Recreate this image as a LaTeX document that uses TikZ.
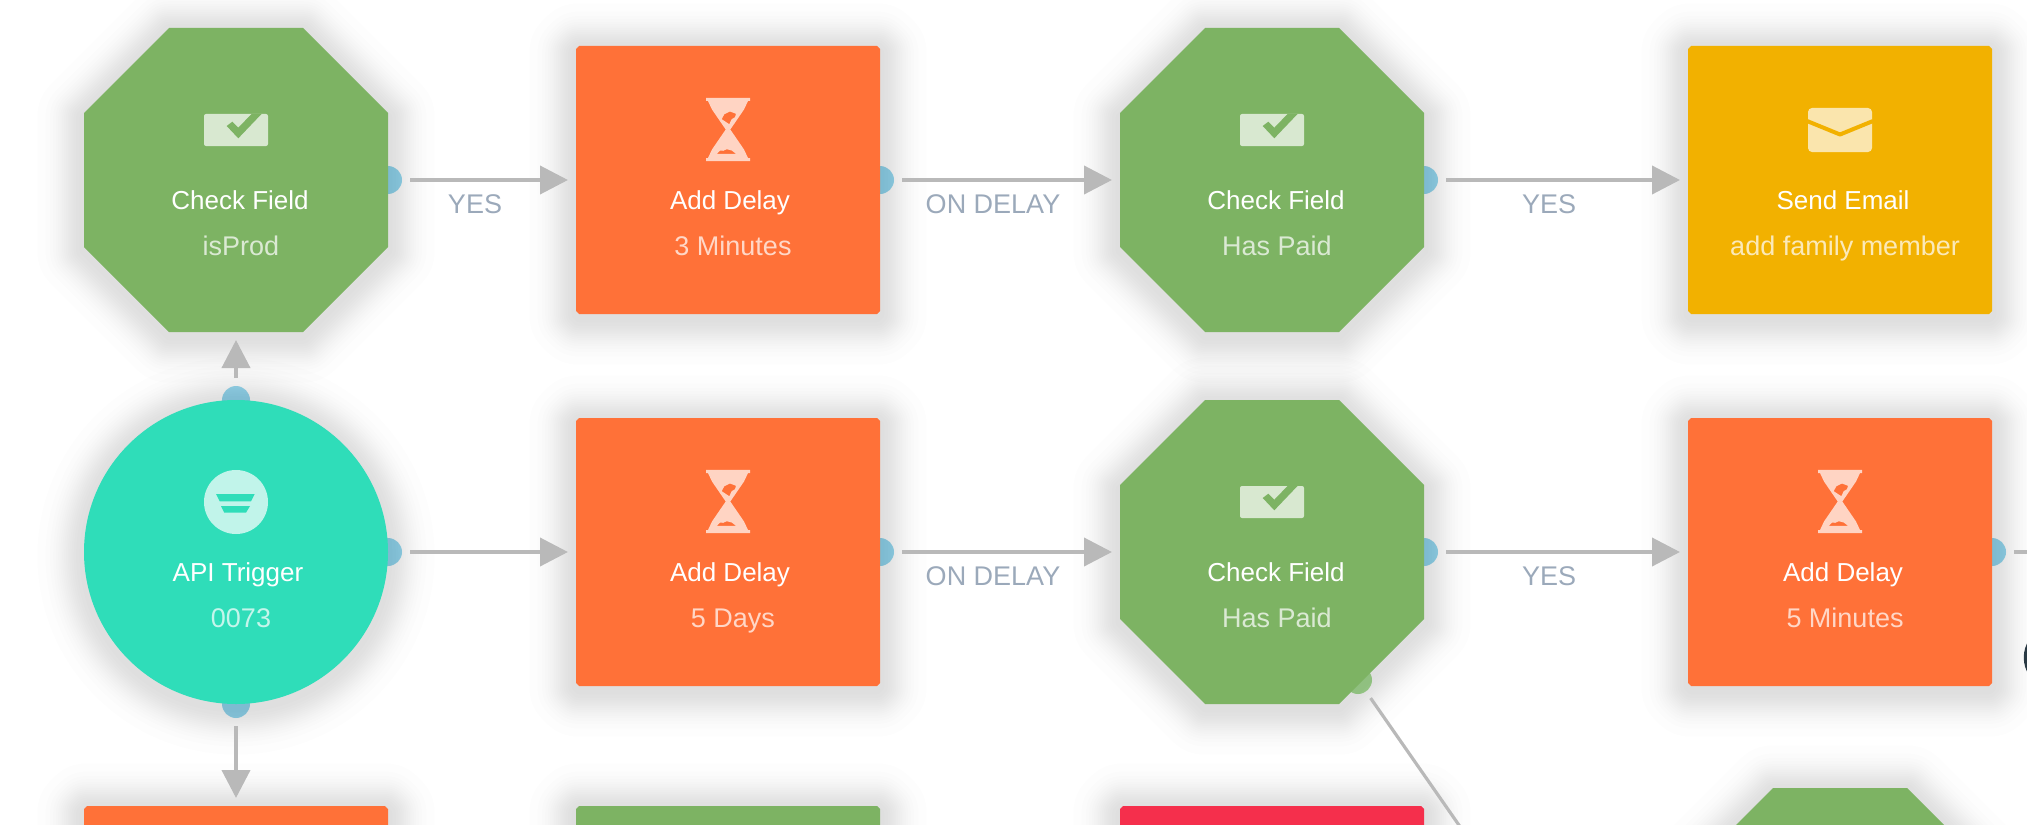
\documentclass[tikz,border=0pt]{standalone}
\usepackage{fontspec}
\setmainfont{Liberation Sans}
\usetikzlibrary{arrows.meta}

\definecolor{chkgreen}{HTML}{7DB363}
\definecolor{dlyorange}{HTML}{FF7138}
\definecolor{mailyellow}{HTML}{F2B100}
\definecolor{apiteal}{HTML}{2FDDB9}
\definecolor{alertred}{HTML}{F52F4C}
\definecolor{portblue}{HTML}{9EDBF1}
\definecolor{portgreen}{HTML}{B0E0A0}
\definecolor{flowgrey}{HTML}{B9B9B9}
\definecolor{flowtext}{HTML}{9BA9BA}
\definecolor{edgedark}{HTML}{2A3A45}

% rectangle with cut corners
\makeatletter
\pgfkeys{/pgf/cut len/.initial=1.5pt}
\pgfdeclareshape{cutbox}{
  \inheritsavedanchors[from=rectangle]
  \inheritanchorborder[from=rectangle]
  \inheritanchor[from=rectangle]{center}
  \inheritanchor[from=rectangle]{north}
  \inheritanchor[from=rectangle]{south}
  \inheritanchor[from=rectangle]{east}
  \inheritanchor[from=rectangle]{west}
  \backgroundpath{
    \pgfmathsetlength\pgf@yc{\pgfkeysvalueof{/pgf/cut len}}
    \southwest \pgf@xa=\pgf@x \pgf@ya=\pgf@y
    \northeast \pgf@xb=\pgf@x \pgf@yb=\pgf@y
    \pgfpathmoveto{\pgfqpoint{\pgf@xa}{\dimexpr\pgf@ya+\pgf@yc}}
    \pgfpathlineto{\pgfqpoint{\pgf@xa}{\dimexpr\pgf@yb-\pgf@yc}}
    \pgfpathlineto{\pgfqpoint{\dimexpr\pgf@xa+\pgf@yc}{\pgf@yb}}
    \pgfpathlineto{\pgfqpoint{\dimexpr\pgf@xb-\pgf@yc}{\pgf@yb}}
    \pgfpathlineto{\pgfqpoint{\pgf@xb}{\dimexpr\pgf@yb-\pgf@yc}}
    \pgfpathlineto{\pgfqpoint{\pgf@xb}{\dimexpr\pgf@ya+\pgf@yc}}
    \pgfpathlineto{\pgfqpoint{\dimexpr\pgf@xb-\pgf@yc}{\pgf@ya}}
    \pgfpathlineto{\pgfqpoint{\dimexpr\pgf@xa+\pgf@yc}{\pgf@ya}}
    \pgfpathclose
  }
}
\makeatother

\tikzset{
  softstep/.style={preaction={draw=black,draw opacity=.0065,line width=#1pt,
      line join=round,transform canvas={yshift=-2pt}}},
  softshadow/.style={softstep/.list={46.6,38.5,34,30.8,28.2,25.8,23.7,21.8,19.9,18,16.2,14.4,12.4,10.3,7.9,4.4}},
  octa/.style={cutbox,/pgf/cut len=42.5pt,minimum width=152pt,minimum height=152pt,
      inner sep=0pt,outer sep=0pt,softshadow,fill=chkgreen},
  card/.style={cutbox,/pgf/cut len=1.5pt,minimum width=152pt,minimum height=134pt,
      inner sep=0pt,outer sep=0pt,softshadow,fill=#1},
  port/.style={circle,minimum size=14pt,inner sep=0pt,outer sep=0pt,fill=portblue},
  flow/.style={draw=flowgrey,line width=2pt,shorten <=4pt,shorten >=4pt,
      -{Triangle[length=14pt,width=14pt]}},
  headtext/.style={anchor=base,white,font=\fontsize{13}{15}\selectfont},
  subtext/.style={anchor=base,white,opacity=.72,font=\fontsize{13.5}{15}\selectfont},
  flowlabel/.style={anchor=base,flowtext,font=\fontsize{13.5}{15}\selectfont},
  checkicon/.pic={
    \fill[white,opacity=.7,rounded corners=1pt] (-32,-16) rectangle (32,16);
    \fill[chkgreen] (-9.3,-4) -- (-3.7,-8.3) -- (2.3,-2.3) -- (15.7,-16.2)
      -- (25.7,-16.2) -- (2.3,8.3) -- cycle;
  },
  delayicon/.pic={
    \fill[white,opacity=.7,even odd rule]
      (-22,-31.7) -- (22,-31.7) -- (22,-28.5) -- (20,-28.5) -- (16,-20)
      -- (2.3,0) -- (16,20) -- (20,28.5) -- (22,28.5)
      -- (22,31.7) -- (-22,31.7) -- (-22,28.5) -- (-20,28.5) -- (-16,20)
      -- (-2.3,0) -- (-16,-20) -- (-20,-28.5)
      -- (-22,-28.5) -- cycle
      (-6.3,-10.3) -- (-3.7,-15.3) -- (2,-18) -- (8,-15.7) -- (7,-12.3)
      -- (3.7,-10.3) -- (1.3,-5.3) -- cycle
      (-11.3,24.3) -- (-8,21) -- (-4.7,21.3) -- (-1.3,19.7) -- (3.7,21)
      -- (8,24.3) -- cycle;
  },
  mailicon/.pic={
    \fill[white,opacity=.68,rounded corners=2pt] (-32,-22) rectangle (32,22);
    \draw[mailyellow,line width=2pt,line join=round] (-33,-9) -- (0,4.5) -- (33,-9);
  },
  apiicon/.pic={
    \fill[white,opacity=.7] (0,0) circle (16pt);
    \fill[apiteal] (-20,-8) -- (18.7,-8) -- (15,-.7) -- (-16.3,-.7) -- cycle;
    \fill[apiteal] (-15,4) -- (14,4) -- (10,10.7) -- (-11.7,10.7) -- cycle;
  }
}

\begin{document}
\begin{tikzpicture}[x=.5pt,y=-.5pt]

      \useasboundingbox (0,0) rectangle (2027,824);
      \clip (0,0) rectangle (2027,824);

      % dots stay under the shapes
      \begin{scope}
        \node[port] (p1) at (388,180)  {};
        \node[port] (p2) at (880,180)  {};
        \node[port] (p3) at (1424,180) {};
        \node[port] (p4) at (236,400)  {};
        \node[port] (p5) at (388,552)  {};
        \node[port] (p6) at (236,704)  {};
        \node[port] (p7) at (880,552)  {};
        \node[port] (p8) at (1424,552) {};
        \node[port] (p9) at (1992,552) {};
        \node[port,fill=portgreen] (p10) at (1358,680) {};
      \end{scope}

      \begin{scope}
        \node[octa] (chk1) at (236,180)   {};
        \node[card=dlyorange] (dly1) at (728,180)  {};
        \node[octa] (chk2) at (1272,180)  {};
        \node[card=mailyellow] (mail1) at (1840,180) {};
        \node[circle,minimum size=152pt,inner sep=0pt,outer sep=0pt,softshadow,fill=apiteal] (api1) at (236,552) {};
        \node[card=dlyorange] (dly2) at (728,552)  {};
        \node[octa] (chk3) at (1272,552)  {};
        \node[card=dlyorange] (dly3) at (1840,552) {};
        \node[card=dlyorange] (dly4) at (236,940)  {};
        \node[card=chkgreen] (chk4) at (728,940)   {};
        \node[card=alertred] (alert1) at (1272,940) {};
        \node[octa] (chk5) at (1840,940)  {};
      \end{scope}

      % icons
      \pic at (236,130)  {checkicon};
      \pic at (728,129.5) {delayicon};
      \pic at (1272,130) {checkicon};
      \pic at (1840,130) {mailicon};
      \pic at (236,502)  {apiicon};
      \pic at (728,501.5) {delayicon};
      \pic at (1272,502) {checkicon};
      \pic at (1840,501.5) {delayicon};

      \node[headtext] (chk1a)  at (240,209)  {Check Field};
      \node[subtext]  (chk1b)  at (241,255)  {isProd};
      \node[headtext] (dly1a)  at (730,209)  {Add Delay};
      \node[subtext]  (dly1b)  at (733,255)  {3 Minutes};
      \node[headtext] (chk2a)  at (1276,209) {Check Field};
      \node[subtext]  (chk2b)  at (1277,255) {Has Paid};
      \node[headtext] (mail1a) at (1843,209) {Send Email};
      \node[subtext]  (mail1b) at (1845,255) {add family member};
      \node[headtext] (api1a)  at (238,581)  {API Trigger};
      \node[subtext]  (api1b)  at (241,627)  {0073};
      \node[headtext] (dly2a)  at (730,581)  {Add Delay};
      \node[subtext]  (dly2b)  at (733,627)  {5 Days};
      \node[headtext] (chk3a)  at (1276,581) {Check Field};
      \node[subtext]  (chk3b)  at (1277,627) {Has Paid};
      \node[headtext] (dly3a)  at (1843,581) {Add Delay};
      \node[subtext]  (dly3b)  at (1845,627) {5 Minutes};

      \coordinate (offright) at (2060,552);
      \coordinate (offlink)  at (1486,864);

      \begin{scope}
        \path (p1)  edge[flow] (dly1);
        \path (p2)  edge[flow] (chk2);
        \path (p3)  edge[flow] (mail1);
        \path (p4)  edge[flow] (chk1);
        \path (p5)  edge[flow] (dly2);
        \path (p6)  edge[flow] (dly4);
        \path (p7)  edge[flow] (chk3);
        \path (p8)  edge[flow] (dly3);
        \draw[draw=flowgrey,line width=2pt,shorten <=4pt] (p9) -- (offright);
        \draw[draw=flowgrey,line width=1.6pt,shorten <=4pt] (p10) -- (offlink);
      \end{scope}

      \node[flowlabel] (yes1) at (475,213)  {YES};
      \node[flowlabel] (ond1) at (993,213)  {ON DELAY};
      \node[flowlabel] (yes2) at (1549,213) {YES};
      \node[flowlabel] (ond2) at (993,585)  {ON DELAY};
      \node[flowlabel] (yes3) at (1549,585) {YES};

      \fill[edgedark] (2029,640) .. controls (2022,650) and (2022,665) .. (2029,675) -- cycle;

    \end{tikzpicture}
\end{document}
